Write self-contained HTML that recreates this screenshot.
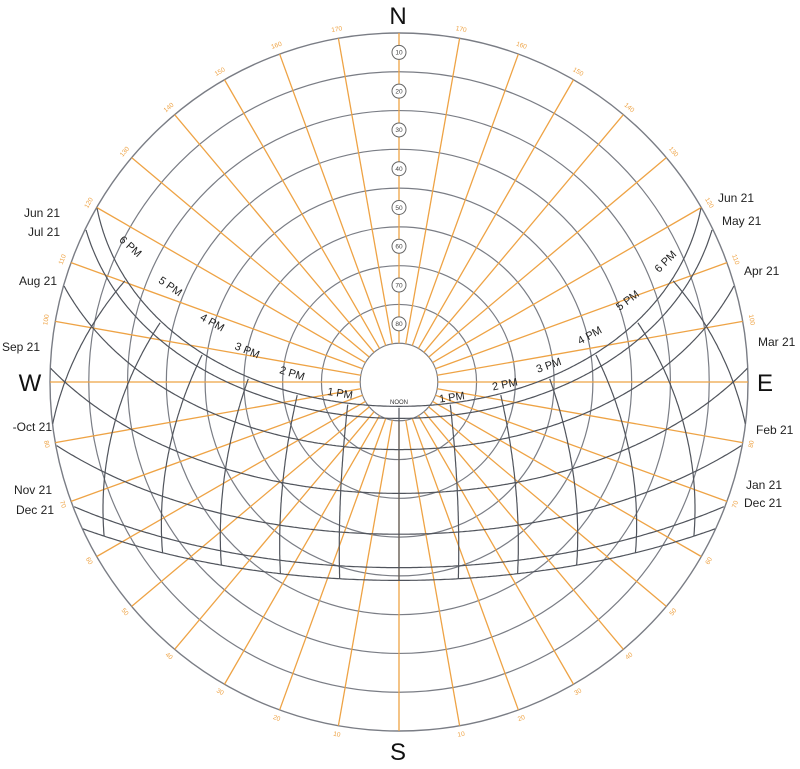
<!DOCTYPE html>
<html><head><meta charset="utf-8"><style>
body{margin:0;background:#fff;}
svg{display:block;font-family:"Liberation Sans",sans-serif;}
</style></head><body>
<svg id="chart" width="800" height="769" viewBox="0 0 800 769" xmlns="http://www.w3.org/2000/svg">
<g id="grid"></g>
<g id="paths"></g>
<g id="labels"></g>
</svg>
<script>
const latitude = 30;
const dateDecl = [23.44, 20.2, 11.8, 0, -11.0, -20.0, -23.44];
const dateNames = ["Jun/Jun", "May/Jul", "Apr/Aug", "Mar/Sep", "Feb/Oct", "Jan/Nov", "Dec/Dec"];
const hourAngles = [-90, -75, -60, -45, -30, -15, 0, 15, 30, 45, 60, 75, 90];
const altRings = [0, 10, 20, 30, 40, 50, 60, 70, 80];
const altLabels = ["10","20","30","40","50","60","70","80"];
const leftDates = [["Jun 21",60,217],["Jul 21",60,236],["Aug 21",57,285],["Sep 21",40,351],["-Oct 21",52,431],["Nov 21",52,494],["Dec 21",54,514]];
const rightDates = [["Jun 21",718,202],["May 21",722,225],["Apr 21",744,275],["Mar 21",758,346],["Feb 21",756,434],["Jan 21",746,489],["Dec 21",744,507]];
const hourLabels = [["6 PM",130,247,42],["5 PM",170,287,35],["4 PM",212,323,29],["3 PM",247,351,22],["2 PM",292,374,17],["1 PM",340,394,9],
  ["1 PM",452,398,-8],["2 PM",505,385,-12],["3 PM",549,366,-19],["4 PM",590,336,-29],["5 PM",628,301,-37],["6 PM",666,262,-45]];

const cx=399, cy=382, R=349, DIP=4;
const NS="http://www.w3.org/2000/svg";
const D=Math.PI/180;
function mk(tag, attrs, parent){const e=document.createElementNS(NS,tag);for(const k in attrs)e.setAttribute(k,attrs[k]);parent.appendChild(e);return e;}
function rOfAlt(a){return (90-a)/90*R;}
function rPath(a){return (90-a)/(90+DIP)*R;}
function proj(alt, az){const r=rPath(alt);return [cx+r*Math.sin(az*D), cy-r*Math.cos(az*D)];}
function sun(dec,H){
  const L=latitude*D, d=dec*D, h=H*D;
  const sa=Math.sin(L)*Math.sin(d)+Math.cos(L)*Math.cos(d)*Math.cos(h);
  const alt=Math.asin(sa);
  let c=(Math.sin(d)-sa*Math.sin(L))/(Math.cos(alt)*Math.cos(L));
  c=Math.max(-1,Math.min(1,c));
  let az=Math.acos(c)/D;
  if(H>0) az=360-az;
  return [alt/D, az];
}
const grid=document.getElementById('grid'), paths=document.getElementById('paths'), labels=document.getElementById('labels');

altRings.forEach(a=>{
  const c=mk('circle',{cx:cx,cy:cy,r:rOfAlt(a),fill:'none',stroke:'#7a7d85','stroke-width':a===0?1.4:1.2},grid);
  
  
});
for(let az=0; az<360; az+=10){
  const r0=R/9;
  const l=mk('line',{x1:cx+r0*Math.sin(az*D),y1:cy-r0*Math.cos(az*D),x2:cx+R*Math.sin(az*D),y2:cy-R*Math.cos(az*D),stroke:'#eea345','stroke-width':1.3},grid);
  
  
  if(az%90!==0){
    const lr=R+9, x=cx+lr*Math.sin(az*D), y=cy-lr*Math.cos(az*D);
    const d=Math.min(az,360-az);
    const rot=(az>90&&az<270)?az+180:az;
    const t=mk('text',{x:x,y:y,'font-size':6.5,fill:'#eea345','text-anchor':'middle','dominant-baseline':'middle',transform:`rotate(${rot} ${x} ${y})`},labels);
    t.textContent=String(180-d);
    
    
  }
}
altLabels.forEach((s,i)=>{
  const y=cy-(R-R/9*(i+0.5));
  const c=mk('circle',{cx:cx,cy:y,r:7,fill:'#fff',stroke:'#666','stroke-width':1},labels);
  
  
  const t=mk('text',{x:cx,y:y+2.3,'font-size':6.5,'text-anchor':'middle',fill:'#444'},labels);
  t.textContent=s;
  
  
});
dateDecl.forEach((dec,i)=>{
  const pts=[];
  for(let H=-180;H<=180;H+=0.5){const [alt,az]=sun(dec,H); if(alt>=-DIP) pts.push(proj(alt,az));}
  const p=mk('polyline',{points:pts.map(q=>q[0].toFixed(1)+','+q[1].toFixed(1)).join(' '),fill:'none',stroke:'#50545c','stroke-width':1.2},paths);
  
  
});
hourAngles.forEach(H=>{
  const pts=[];
  for(let dec=-23.44; dec<=23.45; dec+=0.5){const [alt,az]=sun(dec,H); if(alt>=-DIP) pts.push(proj(alt,az));}
  if(pts.length<2) return;
  const p=mk('polyline',{points:pts.map(q=>q[0].toFixed(1)+','+q[1].toFixed(1)).join(' '),fill:'none',stroke:'#50545c','stroke-width':1.2},paths);
  
  
});
leftDates.forEach(d=>{
  const t=mk('text',{x:d[1],y:d[2],'font-size':12,'text-anchor':'end',fill:'#222'},labels);
  t.textContent=d[0];
  
  
});
rightDates.forEach(d=>{
  const t=mk('text',{x:d[1],y:d[2],'font-size':12,'text-anchor':'start',fill:'#222'},labels);
  t.textContent=d[0];
  
  
});
hourLabels.forEach(h=>{
  const t=mk('text',{x:h[1],y:h[2],'font-size':11,'text-anchor':'middle','dominant-baseline':'middle',fill:'#222',transform:`rotate(${h[3]} ${h[1]} ${h[2]})`},labels);
  t.textContent=h[0];
  
  
});
</script>
<svg style="position:absolute;left:0;top:0" width="800" height="769">
<text x="398" y="24" font-size="24" text-anchor="middle" fill="#111" font-family="Liberation Sans, sans-serif">N</text>
<text x="398" y="760" font-size="24" text-anchor="middle" fill="#111" font-family="Liberation Sans, sans-serif">S</text>
<text x="30" y="391" font-size="24" text-anchor="middle" fill="#111" font-family="Liberation Sans, sans-serif">W</text>
<text x="765" y="391" font-size="24" text-anchor="middle" fill="#111" font-family="Liberation Sans, sans-serif">E</text>
<text x="399" y="404" font-size="6" text-anchor="middle" fill="#333" font-family="Liberation Sans, sans-serif">NOON</text>
</svg>
</body></html>
